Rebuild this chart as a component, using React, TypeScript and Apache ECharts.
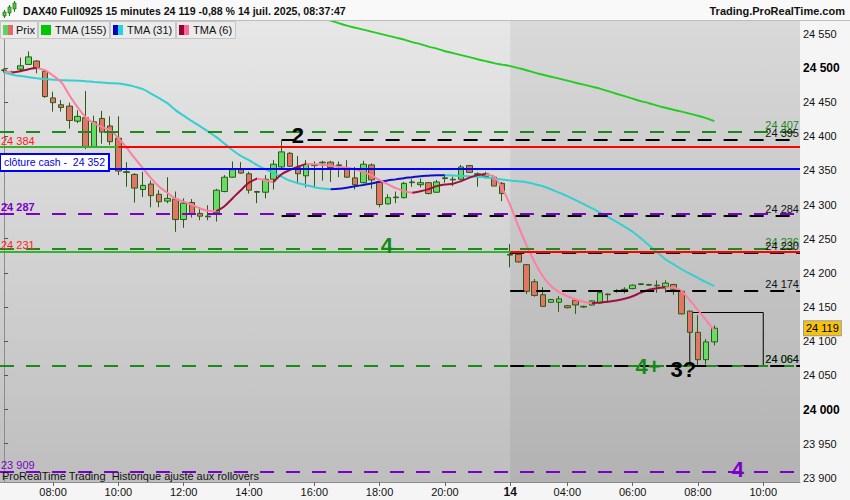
import React, { useEffect, useRef } from 'react';
import * as echarts from 'echarts';

const FONT = '"Liberation Sans", Arial, Helvetica, sans-serif';

// 15-minute slots of the two sessions shown on the x axis
function sessionSlots(start: string, end: string): string[] {
  const toMin = (s: string) => {
    const [h, m] = s.split(':').map(Number);
    return h * 60 + m;
  };
  const out: string[] = [];
  for (let t = toMin(start); t <= toMin(end); t += 15) {
    out.push(`${String(Math.floor(t / 60)).padStart(2, '0')}:${String(t % 60).padStart(2, '0')}`);
  }
  return out;
}
const fridaySlots = sessionSlots('06:30', '21:45');
const mondaySlots = sessionSlots('02:15', '11:00');
const categories = [...fridaySlots, ...mondaySlots];
const dayBreakIndex = fridaySlots.length;
const dayBreakLabel = '14';

// price ticks on the right axis
const yTicks = [23900, 23950, 24000, 24050, 24100, 24150, 24200, 24250, 24300, 24350, 24400, 24450, 24500, 24550];
const yBoldTicks = [24000, 24500];

// DAX40 15-minute candles
const opens = [
  24497, 24494, 24498, 24505, 24510, 24495, 24456, 24446, 24444, 24422,
  24427, 24385, 24426, 24415, 24397, 24348, 24344, 24322, 24330, 24315,
  24305, 24308, 24278, 24303, 24287, 24282, 24288, 24319, 24340, 24351,
  24345, 24319, 24318, 24337, 24355, 24375, 24354, 24342, 24357, 24361,
  24362, 24358, 24353, 24339, 24332, 24358, 24333, 24301, 24310, 24310,
  24332, 24329, 24332, 24318, 24338, 24337, 24337, 24357, 24344, 24341,
  24340, 24331,
  24227, 24227, 24212, 24187, 24168, 24157, 24157, 24152, 24160, 24150,
  24153, 24156, 24168, 24173, 24175, 24177, 24183, 24183, 24182, 24180,
  24183, 24173, 24144, 24113, 24073, 24099,
];
const closes = [
  24496, 24493, 24503, 24516, 24500, 24458, 24449, 24442, 24423, 24429,
  24385, 24421, 24406, 24392, 24349, 24347, 24324, 24328, 24313, 24304,
  24309, 24278, 24302, 24287, 24283, 24283, 24321, 24340, 24351, 24346,
  24321, 24318, 24337, 24359, 24377, 24356, 24345, 24359, 24358, 24362,
  24354, 24357, 24340, 24329, 24359, 24336, 24300, 24310, 24311, 24331,
  24333, 24332, 24316, 24333, 24339, 24336, 24355, 24347, 24345, 24345,
  24327, 24316,
  24226, 24216, 24173, 24167, 24151, 24161, 24162, 24149, 24153, 24151,
  24159, 24171, 24169, 24174, 24176, 24182, 24184, 24182, 24181, 24185,
  24176, 24140, 24113, 24073, 24099, 24119,
];
const highs = [
  24499, 24496, 24515, 24524, 24511, 24497, 24465, 24453, 24449, 24438,
  24466, 24430, 24437, 24429, 24429, 24362, 24346, 24348, 24335, 24321,
  24340, 24319, 24309, 24308, 24296, 24299, 24323, 24343, 24363, 24362,
  24348, 24320, 24343, 24365, 24394, 24377, 24371, 24365, 24363, 24364,
  24364, 24363, 24365, 24355, 24364, 24360, 24337, 24315, 24319, 24333,
  24337, 24338, 24333, 24336, 24343, 24341, 24358, 24358, 24347, 24348,
  24343, 24333,
  24242, 24229, 24213, 24191, 24179, 24162, 24166, 24153, 24162, 24152,
  24160, 24173, 24170, 24176, 24179, 24183, 24185, 24184, 24189, 24189,
  24184, 24175, 24145, 24138, 24103, 24123,
];
const lows = [
  24493, 24490, 24494, 24504, 24492, 24456, 24436, 24436, 24411, 24419,
  24381, 24383, 24389, 24387, 24343, 24326, 24303, 24311, 24296, 24296,
  24302, 24260, 24266, 24281, 24277, 24277, 24275, 24318, 24339, 24345,
  24316, 24302, 24309, 24322, 24353, 24355, 24331, 24325, 24326, 24335,
  24333, 24340, 24339, 24322, 24331, 24323, 24296, 24300, 24302, 24309,
  24326, 24325, 24315, 24317, 24332, 24327, 24336, 24346, 24326, 24338,
  24327, 24305,
  24208, 24215, 24169, 24165, 24150, 24156, 24143, 24148, 24140, 24149,
  24152, 24155, 24157, 24171, 24170, 24176, 24182, 24181, 24171, 24171,
  24168, 24139, 24107, 24065, 24066, 24094,
];

// triangular moving averages, one value per candle
const tma6 = [
  24495.2, 24493.0, 24495.0, 24498.0, 24499.6, 24496.6, 24488.6, 24479.0, 24460.0, 24442.5,
  24427.8, 24419.0, 24413.2, 24408.8, 24397.0, 24383.2, 24367.8, 24353.2, 24338.6, 24326.1,
  24317.3, 24308.5, 24304.2, 24299.8, 24294.2, 24291.0, 24290.5, 24297.6, 24309.3, 24321.0,
  24332.0, 24338.1, 24335.6, 24332.7, 24344.4, 24350.3, 24355.4, 24359.5, 24359.0, 24358.3,
  24356.9, 24355.1, 24354.0, 24351.7, 24347.3, 24342.9, 24335.6, 24329.8, 24323.9, 24319.5,
  24317.3, 24319.5, 24322.5, 24326.9, 24329.3, 24330.5, 24334.2, 24339.3, 24343.0, 24344.0,
  24340.8, 24324.0,
  24299.0, 24268.3, 24240.5, 24215.6, 24195.0, 24180.5, 24171.7, 24165.8, 24161.4, 24157.8,
  24155.6, 24156.6, 24157.8, 24159.5, 24162.2, 24165.8, 24171.0, 24175.4, 24177.6, 24178.6,
  24178.3, 24173.2, 24160.0, 24145.4, 24130.7, 24116.0,
];
const tma31 = [
  24493.0, 24490.0, 24487.9, 24486.4, 24484.9, 24483.5, 24482.7, 24482.0, 24481.6, 24481.1,
  24480.5, 24479.4, 24478.5, 24477.6, 24477.2, 24475.4, 24472.5, 24468.8, 24462.2, 24455.6,
  24448.3, 24438.1, 24430.0, 24422.0, 24414.7, 24406.6, 24398.6, 24389.1, 24379.5, 24371.2,
  24364.9, 24357.6, 24351.7, 24345.9, 24340.7, 24334.9, 24331.2, 24328.3, 24325.4, 24323.5,
  24322.4, 24323.0, 24324.6, 24326.6, 24328.7, 24330.9, 24333.4, 24335.3, 24336.8, 24338.6,
  24340.0, 24341.5, 24342.2, 24342.8, 24343.0, 24342.5, 24341.9, 24341.5, 24340.5, 24339.6,
  24338.1, 24336.7,
  24335.2, 24333.9, 24332.7, 24329.8, 24326.8, 24322.4, 24317.3, 24312.2, 24306.4, 24300.5,
  24294.6, 24288.1, 24281.5, 24274.9, 24267.6, 24260.2, 24250.7, 24240.5, 24230.2, 24220.0,
  24212.7, 24205.3, 24198.8, 24192.6, 24186.3, 24180.5,
];
const tma155 = [
  null, null, null, null, null, null, null, null, null, null,
  null, null, null, null, null, null, null, null, null, null,
  null, null, null, null, null, null, null, null, null, null,
  null, null, null, null, null, null, null, null, null, 24572.7,
  24569.1, 24565.4, 24561.8, 24558.8, 24555.9, 24553.0, 24550.1, 24547.1, 24544.2, 24541.3,
  24537.6, 24534.7, 24531.0, 24528.1, 24524.4, 24521.5, 24518.6, 24515.7, 24512.7, 24509.8,
  24506.9, 24504.7,
  24502.5, 24499.6, 24496.6, 24493.0, 24490.0, 24487.1, 24484.2, 24481.3, 24478.3, 24475.4,
  24472.5, 24469.6, 24465.9, 24462.2, 24458.6, 24454.9, 24451.3, 24448.3, 24444.7, 24441.7,
  24438.8, 24435.9, 24433.0, 24430.0, 24426.4, 24422.0,
];

// horizontal levels
const dashedGreenLevels = [24407, 24236, 24064];
const dashedBlackLevels = [24395, 24284, 24230, 24174, 24064];
const dashedBlackStarts = [34, 34, 62, 62, 62];
const dashedPurpleLevels = [24287, 23909];
const prevCloseLevel = 24384;
const prevCloseSwitch = 14;
const cashCloseLevel = 24352;
const cashCloseText = 'clôture cash -  ';
const dayLevel = 24231;
const lastPrice = 24119;

// frame drawn around the last bars
const frameTop = 24142;
const frameBottom = 24064;
const frameFrom = 84;
const frameTo = 93;

// wave annotations
const noteTexts = ['2', '4', '4+', '3?', '4'];
const noteSlots = [36, 46.9, 78.9, 83.2, 89.9];
const notePrices = [24401, 24240, 24063, 24059, 23912];
const noteColors = ['#000000', '#138a13', '#138a13', '#000000', '#7a00c8'];

const fmt = (v: number) => String(Math.round(v)).replace(/\B(?=(\d{3})+(?!\d))/g, ' ');

const LEFT = -0.5;
const RIGHT = categories.length - 0.5;
const DASH = [14, 12];

const xLabels = categories.map((c, i) => {
  if (i === dayBreakIndex) return dayBreakLabel;
  const [h, m] = c.split(':').map(Number);
  return m === 0 && h % 2 === 0 ? c : '';
});

type Seg = any[];
function seg(value: number, from: number, to: number, color: string, type: any, label?: any): Seg {
  return [
    {
      coord: [from, value],
      lineStyle: { color, type, width: 2 },
      label: label ?? { show: false },
    },
    { coord: [to, value] },
  ];
}
const rightLabel = (v: number, color: string) => ({
  show: true,
  position: 'insideEndTop',
  formatter: fmt(v),
  color,
  fontSize: 11,
  fontFamily: FONT,
  distance: 1,
});
const leftLabel = (v: number, color: string, bold = false) => ({
  show: true,
  position: 'insideStartTop',
  formatter: fmt(v),
  color,
  fontSize: 11,
  fontWeight: bold ? 'bold' : 'normal',
  fontFamily: FONT,
  distance: 1,
});

function trendSeries(name: string, vals: (number | null)[], upColor: string, downColor: string, z: number) {
  const runs: { up: boolean; from: number; to: number }[] = [];
  for (let i = 1; i < vals.length; i++) {
    const a = vals[i - 1];
    const b = vals[i];
    if (a == null || b == null) continue;
    const up = b >= a;
    const last = runs[runs.length - 1];
    if (last && last.up === up && last.to === i - 1) last.to = i;
    else runs.push({ up, from: i - 1, to: i });
  }
  return runs.map((r, k) => ({
    name: `${name}-${k}`,
    type: 'line',
    xAxisIndex: 1,
    yAxisIndex: 0,
    z,
    silent: true,
    showSymbol: false,
    smooth: 0.3,
    clip: true,
    lineStyle: { color: r.up ? upColor : downColor, width: 2 },
    data: vals.slice(r.from, r.to + 1).map((v, j) => [r.from + j, v]),
  }));
}

function buildOption() {
  const levelLines: Seg[] = [];
  dashedGreenLevels.forEach((v) =>
    levelLines.push(seg(v, LEFT, RIGHT, '#1a8a1a', DASH, rightLabel(v, '#1a8a1a'))),
  );
  dashedPurpleLevels.forEach((v, i) =>
    levelLines.push(seg(v, LEFT, RIGHT, '#7c00c8', DASH, leftLabel(v, '#7c00c8', i === 0))),
  );
  dashedBlackLevels.forEach((v, i) =>
    levelLines.push(seg(v, dashedBlackStarts[i], RIGHT, '#000000', DASH, rightLabel(v, '#111111'))),
  );
  levelLines.push(seg(prevCloseLevel, prevCloseSwitch, RIGHT, '#ff0000', 'solid'));
  levelLines.push(seg(prevCloseLevel, LEFT, prevCloseSwitch, '#33b233', 'solid', leftLabel(prevCloseLevel, '#ff2020')));
  levelLines.push(seg(dayLevel, dayBreakIndex, RIGHT, '#ff0000', 'solid'));
  levelLines.push(seg(dayLevel, LEFT, dayBreakIndex, '#33b233', 'solid', leftLabel(dayLevel, '#ff2020')));
  levelLines.push(
    seg(cashCloseLevel, LEFT, RIGHT, '#0000ff', 'solid', {
      show: true,
      position: 'insideStartTop',
      formatter: cashCloseText + fmt(cashCloseLevel),
      color: '#0000e0',
      fontSize: 10.5,
      fontFamily: FONT,
      backgroundColor: '#ffffff',
      borderColor: '#0000ff',
      borderWidth: 2,
      padding: [2, 3, 2, 3],
      distance: [1, -1],
    }),
  );

  const candleData = opens.map((o, i) => [o, closes[i], lows[i], highs[i]]);

  return {
    animation: false,
    backgroundColor: '#f5f5f5',
    textStyle: { fontFamily: FONT },
    grid: {
      left: 0,
      right: 50,
      top: 20,
      bottom: 18,
      show: true,
      borderWidth: 0,
      backgroundColor: new echarts.graphic.LinearGradient(0, 0, 0, 1, [
        { offset: 0, color: '#e7e7e7' },
        { offset: 1, color: '#bebebe' },
      ]),
    },
    xAxis: [
      {
        type: 'category',
        data: categories,
        boundaryGap: true,
        axisLine: { show: true, lineStyle: { color: '#8c8c8c' } },
        axisTick: {
          show: true,
          alignWithLabel: true,
          length: 4,
          interval: (i: number) => xLabels[i] !== '',
          lineStyle: { color: '#666' },
        },
        axisLabel: {
          interval: (i: number) => xLabels[i] !== '',
          formatter: (_: string, i: number) => (i === dayBreakIndex ? `{b|${xLabels[i]}}` : xLabels[i]),
          color: '#111',
          fontSize: 11,
          fontFamily: FONT,
          margin: 4,
          rich: { b: { fontWeight: 'bold', fontSize: 12, fontFamily: FONT, color: '#111' } },
        },
        splitLine: { show: false },
      },
      {
        type: 'value',
        min: LEFT,
        max: RIGHT,
        show: false,
      },
    ],
    yAxis: {
      type: 'value',
      position: 'right',
      min: 23894,
      max: 24570,
      axisLine: { show: true, lineStyle: { color: '#8c8c8c' } },
      axisTick: { show: true, length: 4, customValues: yTicks, lineStyle: { color: '#555' } },
      axisLabel: {
        customValues: yTicks,
        formatter: (v: number) => (yBoldTicks.includes(v) ? `{b|${fmt(v)}}` : fmt(v)),
        color: '#111',
        fontSize: 11,
        fontFamily: FONT,
        margin: 3,
        rich: { b: { fontWeight: 'bold', fontSize: 12, fontFamily: FONT, color: '#000' } },
      },
      splitLine: { show: false },
    },
    series: [
      {
        name: 'session',
        type: 'line',
        xAxisIndex: 1,
        yAxisIndex: 0,
        z: 0,
        silent: true,
        data: [],
        markArea: {
          silent: true,
          itemStyle: { color: 'rgba(0,0,0,0.06)' },
          data: [[{ xAxis: dayBreakIndex }, { xAxis: RIGHT }]],
        },
      },
      {
        name: 'Prix',
        type: 'candlestick',
        xAxisIndex: 0,
        yAxisIndex: 0,
        z: 2,
        barWidth: 6,
        data: candleData,
        itemStyle: {
          color: '#66dc66',
          color0: '#e47468',
          borderColor: '#2b5c14',
          borderColor0: '#2b5c14',
          borderWidth: 1,
        },
        markLine: {
          silent: true,
          symbol: ['none', 'none'],
          data: [
            {
              // last traded price tag on the price axis
              yAxis: lastPrice,
              lineStyle: { color: 'rgba(0,0,0,0)', width: 1, type: 'solid' },
              label: {
                show: true,
                position: 'end',
                distance: 4,
                formatter: fmt(lastPrice),
                color: '#000',
                fontSize: 11,
                fontFamily: FONT,
                backgroundColor: '#f6c20c',
                borderColor: '#9a9a9a',
                borderWidth: 1,
                padding: [2, 2, 1, 2],
              },
            },
          ],
        },
      },
      ...trendSeries('TMA (155)', tma155, '#22cc22', '#22cc22', 3),
      ...trendSeries('TMA (31)', tma31, '#0c10c8', '#35cfd2', 3),
      ...trendSeries('TMA (6)', tma6, '#a0103c', '#ff7ea0', 3),
      {
        name: 'levels',
        type: 'line',
        xAxisIndex: 1,
        yAxisIndex: 0,
        z: 4,
        silent: true,
        data: [],
        markLine: {
          silent: true,
          symbol: ['none', 'none'],
          data: levelLines,
        },
        markArea: {
          silent: true,
          data: [
            [
              {
                coord: [frameFrom, frameTop],
                itemStyle: { color: 'rgba(0,0,0,0)', borderColor: '#000', borderWidth: 1 },
              },
              { coord: [frameTo, frameBottom] },
            ],
          ],
        },
      },
      {
        name: 'notes',
        type: 'scatter',
        xAxisIndex: 1,
        yAxisIndex: 0,
        z: 6,
        silent: true,
        symbolSize: 1,
        itemStyle: { color: 'rgba(0,0,0,0)', opacity: 1 },
        label: {
          show: true,
          position: 'inside',
          fontSize: 22,
          fontWeight: 'bold',
          fontFamily: FONT,
          textBorderWidth: 0,
          opacity: 1,
        },
        data: noteTexts.map((t, i) => ({
          value: [noteSlots[i], notePrices[i]],
          label: { formatter: t, color: noteColors[i] },
        })),
      },
    ],
    graphic: [
      // title bar
      { type: 'rect', shape: { x: 0, y: 0, width: 850, height: 20 }, style: { fill: '#f9f9f9' }, z: 10 },
      { type: 'line', shape: { x1: 0, y1: 20.5, x2: 850, y2: 20.5 }, style: { stroke: '#bdbdbd', lineWidth: 1 }, z: 10 },
      { type: 'line', shape: { x1: 4.5, y1: 10, x2: 4.5, y2: 18 }, style: { stroke: '#2b7a14', lineWidth: 1 }, z: 11 },
      { type: 'rect', shape: { x: 3, y: 12, width: 3, height: 4 }, style: { fill: '#4cc44c', stroke: '#2b7a14', lineWidth: 0.8 }, z: 11 },
      { type: 'line', shape: { x1: 9.5, y1: 5, x2: 9.5, y2: 16 }, style: { stroke: '#2b7a14', lineWidth: 1 }, z: 11 },
      { type: 'rect', shape: { x: 8, y: 7, width: 3, height: 6 }, style: { fill: '#4cc44c', stroke: '#2b7a14', lineWidth: 0.8 }, z: 11 },
      { type: 'line', shape: { x1: 14.5, y1: 1, x2: 14.5, y2: 12 }, style: { stroke: '#2b7a14', lineWidth: 1 }, z: 11 },
      { type: 'rect', shape: { x: 13, y: 3, width: 3, height: 6 }, style: { fill: '#4cc44c', stroke: '#2b7a14', lineWidth: 0.8 }, z: 11 },
      {
        type: 'text',
        x: 23,
        y: 11,
        z: 11,
        style: {
          text: 'DAX40 Full0925 15 minutes 24 119 -0,88 % 14 juil. 2025, 08:37:47',
          font: `bold 10.6px ${FONT}`,
          fill: '#111',
          verticalAlign: 'middle',
        },
      },
      {
        type: 'text',
        x: 845,
        y: 11,
        z: 11,
        style: {
          text: 'Trading.ProRealTime.com',
          font: `bold 11px ${FONT}`,
          fill: '#111',
          align: 'right',
          verticalAlign: 'middle',
        },
      },
      // legend
      { type: 'rect', shape: { x: 0.5, y: 21.5, width: 37, height: 17 }, style: { fill: '#ebebeb', stroke: '#c6c6c6' }, z: 10 },
      { type: 'rect', shape: { x: 3, y: 25, width: 5, height: 10 }, style: { fill: '#5ed35e' }, z: 11 },
      { type: 'rect', shape: { x: 8, y: 25, width: 5, height: 10 }, style: { fill: '#e06a66' }, z: 11 },
      { type: 'text', x: 16, y: 30, z: 11, style: { text: 'Prix', font: `11px ${FONT}`, fill: '#111', verticalAlign: 'middle' } },
      { type: 'rect', shape: { x: 38.5, y: 21.5, width: 71, height: 17 }, style: { fill: '#ebebeb', stroke: '#c6c6c6' }, z: 10 },
      { type: 'rect', shape: { x: 41, y: 25, width: 10, height: 10 }, style: { fill: '#00c800' }, z: 11 },
      { type: 'text', x: 55, y: 30, z: 11, style: { text: 'TMA (155)', font: `11px ${FONT}`, fill: '#111', verticalAlign: 'middle' } },
      { type: 'rect', shape: { x: 110.5, y: 21.5, width: 65, height: 17 }, style: { fill: '#ebebeb', stroke: '#c6c6c6' }, z: 10 },
      { type: 'rect', shape: { x: 113, y: 25, width: 5, height: 10 }, style: { fill: '#0000c8' }, z: 11 },
      { type: 'rect', shape: { x: 118, y: 25, width: 5, height: 10 }, style: { fill: '#22d3e0' }, z: 11 },
      { type: 'text', x: 127, y: 30, z: 11, style: { text: 'TMA (31)', font: `11px ${FONT}`, fill: '#111', verticalAlign: 'middle' } },
      { type: 'rect', shape: { x: 176.5, y: 21.5, width: 59, height: 17 }, style: { fill: '#ebebeb', stroke: '#c6c6c6' }, z: 10 },
      { type: 'rect', shape: { x: 179, y: 25, width: 5, height: 10 }, style: { fill: '#990033' }, z: 11 },
      { type: 'rect', shape: { x: 184, y: 25, width: 5, height: 10 }, style: { fill: '#ff6699' }, z: 11 },
      { type: 'text', x: 193, y: 30, z: 11, style: { text: 'TMA (6)', font: `11px ${FONT}`, fill: '#111', verticalAlign: 'middle' } },
      // footer note
      {
        type: 'text',
        x: 2,
        y: 476,
        z: 11,
        style: {
          text: 'ProRealTime Trading  Historique ajusté aux rollovers',
          font: `11px ${FONT}`,
          fill: '#111',
          verticalAlign: 'middle',
        },
      },
    ],
  };
}

export default function App() {
  const ref = useRef<HTMLDivElement>(null);
  useEffect(() => {
    if (!ref.current) return;
    const chart = echarts.init(ref.current, null, { renderer: 'svg' });
    chart.setOption(buildOption() as any);
    return () => chart.dispose();
  }, []);
  return <div ref={ref} style={{ position: 'fixed', left: 0, top: 0, width: 850, height: 500 }} />;
}
